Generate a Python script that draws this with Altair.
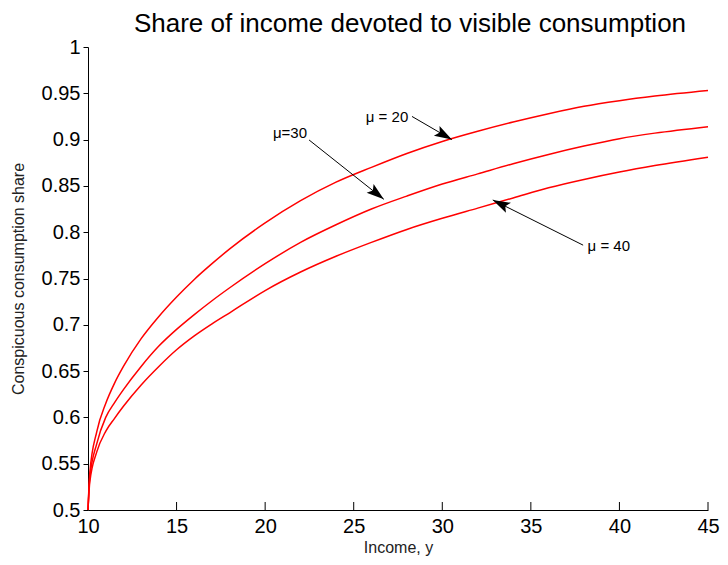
import math
import altair as alt
import pandas as pd

# ---- data ----
income = [10, 10.1, 10.5, 11, 11.5, 12, 13, 14, 15, 16, 17, 18, 20, 22, 24, 26, 28,
          30, 32, 34, 36, 38, 40, 42, 45]
share_mu20 = [0.50, 0.540, 0.585, 0.615, 0.637, 0.655, 0.685, 0.709, 0.730, 0.749, 0.766,
              0.782, 0.810, 0.834, 0.854, 0.870, 0.885, 0.898, 0.909, 0.919, 0.928, 0.936,
              0.942, 0.947, 0.953]
share_mu30 = [0.50, 0.535, 0.572, 0.600, 0.616, 0.630, 0.655, 0.677, 0.695, 0.711, 0.726,
              0.740, 0.766, 0.789, 0.808, 0.825, 0.839, 0.852, 0.863, 0.874, 0.884, 0.893,
              0.901, 0.907, 0.914]
share_mu40 = [0.50, 0.530, 0.563, 0.585, 0.599, 0.612, 0.635, 0.655, 0.673, 0.688, 0.701,
              0.713, 0.737, 0.757, 0.774, 0.789, 0.803, 0.815, 0.826, 0.837, 0.848, 0.857,
              0.865, 0.872, 0.881]

x_ticks = [10, 15, 20, 25, 30, 35, 40, 45]
y_ticks = [0.5, 0.55, 0.6, 0.65, 0.7, 0.75, 0.8, 0.85, 0.9, 0.95, 1]

ann_labels = ["\u03bc = 20", "\u03bc=30", "\u03bc = 40"]
ann_label_x = [26.88, 21.40, 39.40]
ann_label_y = [0.924, 0.907, 0.7846]
ann_tail_x = [28.29, 22.48, 37.95]
ann_tail_y = [0.925, 0.8996, 0.786]
ann_tip_x = [30.54, 26.70, 32.85]
ann_tip_y = [0.900, 0.8355, 0.8348]

TITLE = "Share of income devoted to visible consumption"

# ---- layout ----
W, H = 620, 463
FONT = "Liberation Sans"

rows = []
for name, vals in [("mu20", share_mu20), ("mu30", share_mu30), ("mu40", share_mu40)]:
    for xv, yv in zip(income, vals):
        rows.append({"series": name, "income": xv, "share": yv})
df = pd.DataFrame(rows)

# arrow head angles in screen space
angles = []
for tx, ty, hx, hy in zip(ann_tail_x, ann_tail_y, ann_tip_x, ann_tip_y):
    dx = (hx - tx) * W / 35.0
    dy = -(hy - ty) * H / 0.5
    angles.append(math.degrees(math.atan2(dx, -dy)) % 360)

ann = pd.DataFrame({
    "label": ann_labels, "lx": ann_label_x, "ly": ann_label_y,
    "tx": ann_tail_x, "ty": ann_tail_y, "hx": ann_tip_x, "hy": ann_tip_y,
    "ang": angles,
})

xscale = alt.Scale(domain=[10, 45], nice=False, zero=False)
yscale = alt.Scale(domain=[0.5, 1], nice=False, zero=False)

xaxis = alt.Axis(values=x_ticks, format="d", grid=False, ticks=False,
                 labelFont=FONT, labelFontSize=20, labelColor="black", labelPadding=6,
                 labelFlush=False,
                 domainColor="black", domainWidth=1,
                 title="Income, y", titleFont=FONT, titleFontSize=16,
                 titleFontWeight="normal", titleColor="#222", titlePadding=3)
yaxis = alt.Axis(values=y_ticks, format=".2~f", grid=False, tickSize=5, tickColor="black",
                 labelFont=FONT, labelFontSize=20, labelColor="black", labelPadding=3,
                 labelFlush=False,
                 domainColor="black", domainWidth=1,
                 title="Conspicuous consumption share", titleFont=FONT, titleFontSize=16,
                 titleFontWeight="normal", titleColor="#222", titlePadding=15)

lines = alt.Chart(df).mark_line(color="#ff0000", strokeWidth=1.5,
                                interpolate="monotone").encode(
    x=alt.X("income:Q", scale=xscale, axis=xaxis),
    y=alt.Y("share:Q", scale=yscale, axis=yaxis),
    detail="series:N",
)

xtick_df = pd.DataFrame({"t": x_ticks[1:]})
xticks = alt.Chart(xtick_df).mark_rule(color="black", strokeWidth=1).encode(
    x=alt.X("t:Q", scale=xscale),
    y=alt.value(H),
    y2=alt.value(H - 8),
)

arrow_lines = alt.Chart(ann).mark_rule(color="black", strokeWidth=1).encode(
    x=alt.X("tx:Q", scale=xscale), y=alt.Y("ty:Q", scale=yscale),
    x2="hx:Q", y2="hy:Q",
)

HEAD = "M0,0 L0.8,2.5 L0,2 L-0.8,2.5 Z"
arrow_heads = alt.Chart(ann).mark_point(shape=HEAD, filled=True, color="black",
                                        size=196, opacity=1, strokeWidth=0).encode(
    x=alt.X("hx:Q", scale=xscale), y=alt.Y("hy:Q", scale=yscale),
    angle=alt.Angle("ang:Q", scale=None),
)

labels = alt.Chart(ann).mark_text(font=FONT, fontSize=15, color="black",
                                  align="center", baseline="middle").encode(
    x=alt.X("lx:Q", scale=xscale), y=alt.Y("ly:Q", scale=yscale),
    text="label:N",
)

title = alt.Chart(pd.DataFrame({"t": [TITLE]})).mark_text(
    font=FONT, fontSize=26, color="black", align="center", baseline="alphabetic"
).encode(x=alt.value(W / 2 + 12), y=alt.value(-15), text="t:N")

chart = alt.layer(lines, xticks, arrow_lines, arrow_heads, labels, title).properties(
    width=W, height=H,
    autosize=alt.AutoSizeParams(type="none"),
    padding={"left": 80, "top": 39, "right": 12, "bottom": 47},
    background="white",
).configure_view(stroke="transparent")

chart.save("out.html", embed_options={"renderer": "svg", "actions": False})
